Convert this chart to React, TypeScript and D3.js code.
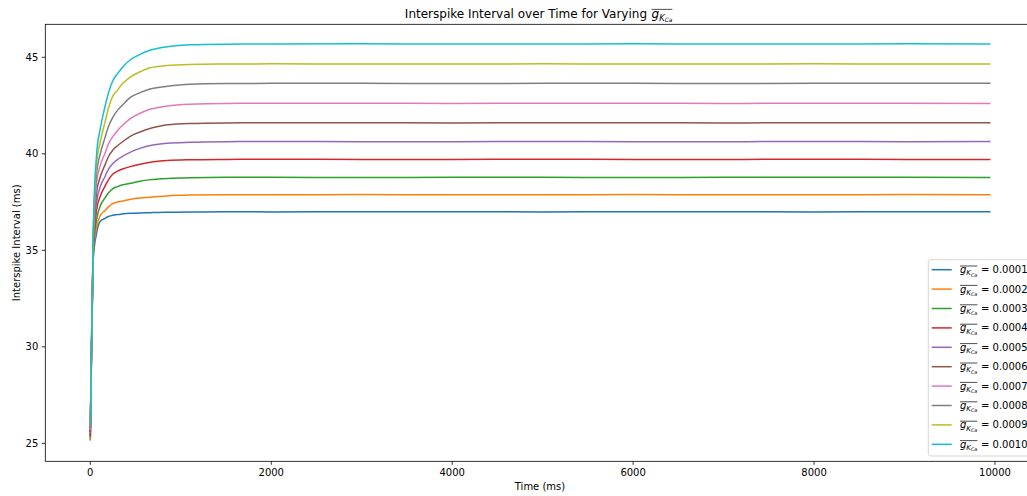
import React from "react"
import * as d3 from "d3"

const WIDTH = 1027
const HEIGHT = 496
const MARGIN = { top: 24.3, left: 45.3, bottom: 461.3, right: 1035.5 }
const FONT = "DejaVu Sans, sans-serif"

// sample times (ms)
const times = [0, 35, 70, 110, 160, 200, 250, 300, 350, 450, 550, 650, 750, 850, 1100, 1500, 2000, 3000, 4000, 5000, 6000, 7000, 8000, 9000, 9950]

const gLabels = ["0.0001", "0.0002", "0.0003", "0.0004", "0.0005", "0.0006", "0.0007", "0.0008", "0.0009", "0.0010"]
const colors = ["#1f77b4", "#ff7f0e", "#2ca02c", "#d62728", "#9467bd", "#8c564b", "#e377c2", "#7f7f7f", "#bcbd22", "#17becf"]

const isi1 = [25.15, 34.7, 35.9, 36.5, 36.65, 36.75, 36.82, 36.85, 36.88, 36.92, 36.94, 36.95, 36.96, 36.97, 36.98, 37.0, 36.99, 37.0, 37.0, 36.99, 37.0, 37.0, 36.99, 37.0, 37.0]
const isi2 = [25.2, 34.9, 36.2, 36.8, 37.05, 37.25, 37.42, 37.5, 37.55, 37.65, 37.71, 37.75, 37.79, 37.82, 37.86, 37.88, 37.88, 37.89, 37.88, 37.88, 37.89, 37.88, 37.88, 37.89, 37.88]
const isi3 = [25.3, 35.1, 36.6, 37.3, 37.7, 37.97, 38.2, 38.3, 38.38, 38.48, 38.58, 38.65, 38.69, 38.72, 38.76, 38.78, 38.78, 38.77, 38.78, 38.78, 38.77, 38.78, 38.78, 38.78, 38.77]
const isi4 = [25.4, 35.3, 37.1, 37.8, 38.3, 38.65, 38.95, 39.1, 39.2, 39.35, 39.46, 39.55, 39.61, 39.65, 39.69, 39.71, 39.72, 39.71, 39.71, 39.72, 39.71, 39.71, 39.72, 39.71, 39.71]
const isi5 = [25.5, 35.5, 37.5, 38.3, 38.8, 39.2, 39.5, 39.7, 39.85, 40.1, 40.28, 40.42, 40.5, 40.55, 40.6, 40.63, 40.64, 40.63, 40.63, 40.64, 40.63, 40.63, 40.64, 40.63, 40.64]
const isi6 = [25.6, 35.7, 38.0, 38.8, 39.4, 39.85, 40.2, 40.42, 40.6, 40.93, 41.13, 41.3, 41.42, 41.5, 41.57, 41.6, 41.61, 41.61, 41.6, 41.61, 41.61, 41.6, 41.61, 41.61, 41.61]
const isi7 = [25.7, 35.9, 38.5, 39.4, 40.0, 40.5, 40.9, 41.2, 41.45, 41.85, 42.1, 42.3, 42.4, 42.48, 42.57, 42.61, 42.62, 42.62, 42.61, 42.62, 42.62, 42.61, 42.62, 42.62, 42.61]
const isi8 = [25.8, 36.1, 39.0, 40.0, 40.8, 41.4, 41.9, 42.25, 42.5, 42.95, 43.17, 43.35, 43.44, 43.5, 43.6, 43.64, 43.65, 43.65, 43.64, 43.65, 43.65, 43.64, 43.65, 43.65, 43.65]
const isi9 = [25.95, 36.3, 39.5, 40.6, 41.6, 42.35, 43.0, 43.3, 43.6, 44.0, 44.25, 44.45, 44.53, 44.58, 44.63, 44.65, 44.66, 44.65, 44.65, 44.66, 44.65, 44.65, 44.66, 44.65, 44.65]
const isi10 = [25.9, 36.5, 40.0, 41.3, 42.4, 43.15, 43.8, 44.15, 44.45, 44.9, 45.15, 45.35, 45.47, 45.55, 45.65, 45.68, 45.69, 45.7, 45.69, 45.69, 45.7, 45.69, 45.69, 45.7, 45.69]

const series = [isi1, isi2, isi3, isi4, isi5, isi6, isi7, isi8, isi9, isi10]

const xTicks = [0, 2000, 4000, 6000, 8000, 10000]
const yTicks = [25, 30, 35, 40, 45]

// g-bar with K_Ca subscript, like matplotlib mathtext
const GBar = ({ x, y, size }: { x: number; y: number; size: number }) => {
    const w = size * 1.74
    return (
        <g>
            <text x={x} y={y} fontSize={size} fontFamily={FONT} fontStyle="italic" fill="#000">
                g
                <tspan fontSize={size * 0.7} dy={size * 0.22}>K</tspan>
                <tspan fontSize={size * 0.49} dy={size * 0.12}>Ca</tspan>
            </text>
            <line x1={x} x2={x + w} y1={y - size * 0.72} y2={y - size * 0.72} stroke="#000" strokeWidth={0.7} />
        </g>
    )
}

export default function App() {
    const xScale = d3.scaleLinear().domain([-497.5, 10447.5]).range([MARGIN.left, MARGIN.right])
    const yScale = d3.scaleLinear().domain([24.07, 46.71]).range([MARGIN.bottom, MARGIN.top])

    const line = d3
        .line<number>()
        .x((_, i) => xScale(times[i]))
        .y((d) => yScale(d))
        .curve(d3.curveMonotoneX)

    const legendTop = 259.7
    const rowGap = 19.4

    return (
        <svg width={WIDTH} height={HEIGHT} style={{ position: "absolute", left: 0, top: 0 }}>
            <rect width={WIDTH} height={HEIGHT} fill="#fff" />
            <text x={647} y={18} textAnchor="end" fontSize={12} fontFamily={FONT} fill="#000">
                Interspike Interval over Time for Varying
            </text>
            <GBar x={651.5} y={18} size={12} />

            <g>
                {series.map((s, i) => (
                    <path key={i} d={line(s) || ""} fill="none" stroke={colors[i]} strokeWidth={1.5} />
                ))}
            </g>

            <rect
                x={MARGIN.left}
                y={MARGIN.top}
                width={MARGIN.right - MARGIN.left}
                height={MARGIN.bottom - MARGIN.top}
                fill="none"
                stroke="#000"
                strokeWidth={0.8}
            />

            {xTicks.map((t) => (
                <g key={t}>
                    <line x1={xScale(t)} x2={xScale(t)} y1={MARGIN.bottom} y2={MARGIN.bottom + 3.5} stroke="#000" strokeWidth={0.8} />
                    <text x={xScale(t)} y={MARGIN.bottom + 14.5} textAnchor="middle" fontSize={10} fontFamily={FONT} fill="#000">
                        {t}
                    </text>
                </g>
            ))}
            {yTicks.map((t) => (
                <g key={t}>
                    <line x1={MARGIN.left - 3.5} x2={MARGIN.left} y1={yScale(t)} y2={yScale(t)} stroke="#000" strokeWidth={0.8} />
                    <text x={MARGIN.left - 7} y={yScale(t) + 3.6} textAnchor="end" fontSize={10} fontFamily={FONT} fill="#000">
                        {t}
                    </text>
                </g>
            ))}
            <text x={540} y={490} textAnchor="middle" fontSize={10} fontFamily={FONT} fill="#000">
                Time (ms)
            </text>
            <text
                transform={`translate(20,${(MARGIN.top + MARGIN.bottom) / 2}) rotate(-90)`}
                textAnchor="middle"
                fontSize={10}
                fontFamily={FONT}
                fill="#000"
            >
                Interspike Interval (ms)
            </text>

            <g>
                <rect
                    x={928.3}
                    y={legendTop}
                    width={110}
                    height={196.3}
                    rx={2.5}
                    fill="#fff"
                    fillOpacity={0.8}
                    stroke="#ccc"
                    strokeWidth={0.8}
                />
                {gLabels.map((lab, i) => {
                    const cy = legendTop + 10 + i * rowGap
                    return (
                        <g key={lab}>
                            <line x1={931.7} x2={951.7} y1={cy} y2={cy} stroke={colors[i]} strokeWidth={1.5} />
                            <GBar x={960} y={cy + 3.5} size={10} />
                            <text x={981} y={cy + 3.5} fontSize={10} fontFamily={FONT} fill="#000">
                                = {lab}
                            </text>
                        </g>
                    )
                })}
            </g>
        </svg>
    )
}
